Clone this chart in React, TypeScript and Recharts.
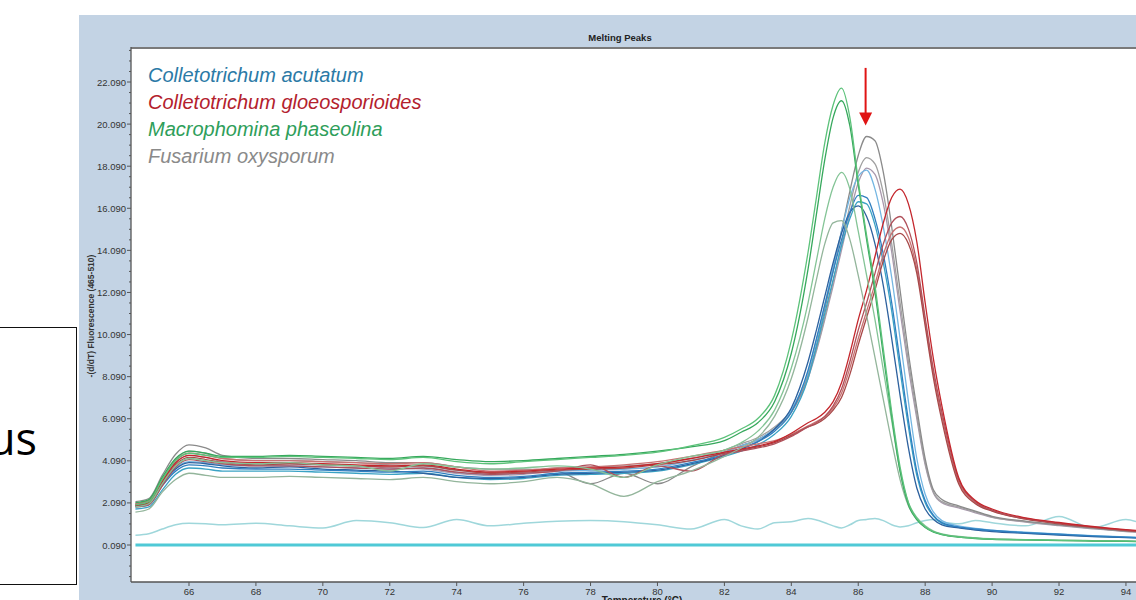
import React from 'react';
import { LineChart, Line, XAxis, YAxis, ReferenceLine, ReferenceDot } from 'recharts';

// Temperature grid (°C)
const temps = [64.4, 64.8, 65.2, 65.6, 66, 66.5, 67, 68, 69, 70, 71, 72, 73, 74, 75, 76, 77, 78, 79, 80, 81, 82, 82.5, 83, 83.5, 84, 84.5, 84.75, 85, 85.25, 85.5, 85.75, 86, 86.25, 86.5, 86.75, 87, 87.25, 87.5, 87.75, 88, 88.25, 88.5, 89, 89.5, 90, 91, 92, 93, 94, 94.4];

// Macrophomina phaseolina (green)
const macro1 = [2.0, 2.15, 3.2, 4.1, 4.45, 4.35, 4.25, 4.25, 4.3, 4.25, 4.2, 4.15, 4.25, 4.05, 3.95, 4.05, 4.15, 4.25, 4.35, 4.5, 4.8, 5.2, 5.6, 6.1, 7.2, 9.8, 14.0, 16.6, 19.2, 21.0, 21.8, 20.4, 17.4, 14.8, 12.4, 9.4, 6.4, 3.8, 2.1, 1.35, 0.95, 0.72, 0.6, 0.47, 0.41, 0.37, 0.34, 0.31, 0.29, 0.27, 0.26];
const macro2 = [2.1, 2.25, 3.3, 4.2, 4.55, 4.45, 4.3, 4.3, 4.35, 4.3, 4.25, 4.2, 4.3, 4.15, 4.05, 4.1, 4.2, 4.3, 4.4, 4.55, 4.75, 5.05, 5.45, 5.9, 6.9, 9.2, 13.2, 15.8, 18.4, 20.4, 21.2, 20.0, 17.2, 14.6, 12.1, 9.1, 6.2, 3.6, 2.0, 1.3, 0.92, 0.7, 0.58, 0.46, 0.4, 0.36, 0.33, 0.3, 0.28, 0.26, 0.25];
const macro3 = [1.9, 2.05, 3.0, 3.85, 4.2, 4.1, 4.0, 3.95, 4.0, 3.9, 3.85, 3.6, 3.95, 3.8, 3.7, 3.75, 3.85, 3.7, 3.3, 3.9, 4.3, 4.6, 4.95, 5.5, 6.5, 8.5, 11.6, 13.6, 15.6, 17.1, 17.8, 17.0, 15.0, 12.9, 10.8, 8.4, 6.0, 3.6, 2.1, 1.4, 1.0, 0.75, 0.62, 0.5, 0.43, 0.39, 0.35, 0.32, 0.3, 0.28, 0.27];
const macro4 = [1.65, 1.8, 2.6, 3.2, 3.5, 3.4, 3.3, 3.3, 3.35, 3.3, 3.25, 3.2, 3.3, 3.1, 3.0, 3.1, 3.3, 3.0, 2.4, 3.1, 3.6, 4.3, 4.7, 5.2, 6.2, 8.0, 10.9, 12.7, 14.4, 15.4, 15.5, 14.6, 12.9, 11.0, 9.0, 7.0, 5.0, 3.2, 1.95, 1.3, 0.95, 0.73, 0.6, 0.48, 0.42, 0.38, 0.34, 0.31, 0.29, 0.27, 0.26];

// Colletotrichum acutatum (blue)
const acut1 = [1.9, 2.0, 2.9, 3.6, 3.9, 3.85, 3.75, 3.7, 3.7, 3.65, 3.6, 3.55, 3.6, 3.4, 3.3, 3.35, 3.5, 3.55, 3.6, 3.7, 4.0, 4.4, 4.7, 5.0, 5.5, 6.4, 8.4, 9.9, 11.5, 13.1, 14.6, 15.9, 16.7, 16.6, 15.6, 13.9, 11.6, 8.8, 6.0, 3.6, 2.2, 1.5, 1.15, 0.95, 0.85, 0.78, 0.68, 0.6, 0.52, 0.46, 0.44];
const acut2 = [1.8, 1.9, 2.7, 3.45, 3.75, 3.7, 3.6, 3.6, 3.6, 3.55, 3.5, 3.45, 3.5, 3.3, 3.2, 3.25, 3.4, 3.45, 3.5, 3.6, 3.9, 4.3, 4.55, 4.85, 5.35, 6.2, 8.0, 9.5, 11.1, 12.7, 14.3, 15.6, 16.4, 16.3, 15.3, 13.5, 11.2, 8.4, 5.7, 3.4, 2.1, 1.45, 1.12, 0.93, 0.83, 0.76, 0.66, 0.58, 0.5, 0.45, 0.43];
const acut3 = [2.0, 2.1, 3.0, 3.75, 4.05, 4.0, 3.9, 3.85, 3.85, 3.8, 3.75, 3.7, 3.75, 3.55, 3.45, 3.5, 3.6, 3.65, 3.7, 3.8, 4.1, 4.5, 4.8, 5.1, 5.6, 6.5, 8.3, 9.8, 11.5, 13.3, 15.0, 16.6, 17.6, 17.9, 17.0, 15.2, 12.8, 9.9, 6.9, 4.2, 2.5, 1.65, 1.25, 1.0, 0.88, 0.8, 0.7, 0.62, 0.54, 0.48, 0.46];
const acut4 = [1.95, 2.05, 3.0, 3.7, 4.0, 3.95, 3.85, 3.75, 3.8, 3.7, 3.65, 3.6, 3.5, 3.3, 3.25, 3.3, 3.45, 3.5, 3.55, 3.65, 3.95, 4.35, 4.65, 5.0, 5.6, 6.6, 8.8, 10.3, 11.9, 13.5, 14.9, 15.9, 16.2, 15.7, 14.4, 12.4, 9.9, 7.2, 4.7, 2.8, 1.8, 1.3, 1.05, 0.9, 0.8, 0.73, 0.64, 0.56, 0.49, 0.44, 0.42];

// Fusarium oxysporum (gray)
const fus1 = [2.15, 2.3, 3.4, 4.4, 4.85, 4.7, 4.35, 4.2, 4.2, 4.15, 4.1, 4.0, 4.0, 3.8, 3.7, 3.7, 3.6, 3.0, 3.5, 3.0, 3.8, 4.5, 4.8, 5.1, 5.6, 6.4, 8.2, 9.6, 11.3, 13.1, 15.0, 16.9, 18.6, 19.5, 19.3, 17.8, 15.2, 12.2, 9.2, 6.6, 4.2, 2.7, 2.25, 1.95, 1.7, 1.45, 1.22, 1.05, 0.9, 0.76, 0.72];
const fus2 = [2.05, 2.2, 3.2, 4.15, 4.55, 4.45, 4.2, 4.1, 4.1, 4.05, 4.0, 3.9, 3.85, 3.65, 3.55, 3.6, 3.75, 3.8, 3.85, 3.95, 4.2, 4.6, 4.9, 5.2, 5.7, 6.5, 8.1, 9.4, 10.9, 12.6, 14.4, 16.2, 17.8, 18.5, 18.2, 16.8, 14.4, 11.6, 8.8, 6.3, 4.0, 2.6, 2.15, 1.9, 1.66, 1.42, 1.2, 1.03, 0.88, 0.74, 0.7];
const fus3 = [1.95, 2.1, 3.1, 4.0, 4.35, 4.25, 4.05, 3.95, 3.95, 3.9, 3.85, 3.75, 3.7, 3.5, 3.4, 3.45, 3.6, 3.65, 3.7, 3.8, 4.1, 4.5, 4.8, 5.1, 5.6, 6.4, 8.0, 9.3, 10.8, 12.4, 14.1, 15.8, 17.3, 18.0, 17.7, 16.3, 14.0, 11.2, 8.5, 6.1, 3.9, 2.55, 2.1, 1.85, 1.62, 1.4, 1.18, 1.01, 0.86, 0.73, 0.69];

// Colletotrichum gloeosporioides (red)
const gloeo1 = [2.0, 2.1, 3.1, 4.0, 4.35, 4.25, 4.1, 4.0, 4.0, 3.95, 3.9, 3.85, 3.9, 3.7, 3.55, 3.6, 3.7, 3.75, 3.8, 3.95, 4.2, 4.5, 4.65, 4.8, 5.0, 5.4, 5.9, 6.1, 6.4, 6.9, 7.8, 9.2, 10.8, 12.2, 13.8, 15.4, 16.6, 17.0, 16.3, 14.5, 11.6, 8.9, 6.7, 3.3, 2.2, 1.8, 1.38, 1.16, 0.97, 0.82, 0.77];
const gloeo2 = [1.9, 2.0, 2.9, 3.8, 4.15, 4.05, 3.95, 3.85, 3.85, 3.8, 3.75, 3.7, 3.75, 3.55, 3.45, 3.5, 3.6, 3.9, 3.3, 3.85, 3.6, 4.4, 4.55, 4.7, 4.9, 5.25, 5.7, 5.9, 6.2, 6.7, 7.5, 8.8, 10.3, 11.6, 13.0, 14.4, 15.4, 15.7, 15.1, 13.5, 10.9, 8.4, 6.4, 3.2, 2.15, 1.75, 1.35, 1.13, 0.95, 0.8, 0.75];
const gloeo3 = [2.05, 2.2, 3.2, 4.1, 4.45, 4.35, 4.2, 4.1, 4.1, 4.05, 4.0, 3.95, 4.0, 3.8, 3.6, 3.65, 3.75, 3.8, 3.9, 4.05, 4.3, 4.6, 4.75, 4.9, 5.05, 5.35, 5.75, 5.95, 6.2, 6.6, 7.3, 8.5, 9.9, 11.2, 12.5, 13.9, 14.9, 15.2, 14.7, 13.2, 10.7, 8.2, 6.2, 3.1, 2.1, 1.72, 1.33, 1.12, 0.94, 0.79, 0.74];
const gloeo4 = [1.95, 2.1, 3.0, 3.9, 4.25, 4.15, 4.0, 3.9, 3.95, 3.9, 3.85, 3.8, 3.85, 3.65, 3.5, 3.55, 3.65, 3.7, 3.75, 3.9, 4.1, 4.45, 4.6, 4.75, 4.95, 5.3, 5.7, 5.85, 6.1, 6.5, 7.1, 8.2, 9.6, 10.9, 12.2, 13.6, 14.6, 14.9, 14.4, 13.0, 10.5, 8.0, 6.0, 3.0, 2.05, 1.7, 1.32, 1.1, 0.93, 0.78, 0.73];

// Controls (cyan)
const ctrlNoise = [0.55, 0.62, 0.85, 1.05, 1.12, 1.1, 1.05, 1.12, 1.0, 0.9, 1.25, 1.15, 0.92, 1.3, 1.0, 1.12, 1.22, 1.25, 1.2, 1.05, 0.85, 1.3, 1.0, 0.85, 1.15, 1.2, 1.35, 1.28, 1.15, 1.0, 0.9, 1.05, 1.25, 1.3, 1.35, 1.25, 1.05, 0.95, 1.0, 1.15, 1.25, 1.3, 1.2, 1.1, 1.25, 1.15, 1.0, 1.45, 0.9, 1.3, 1.15];
const ctrlFlat = [0.09, 0.09, 0.09, 0.09, 0.09, 0.09, 0.09, 0.09, 0.09, 0.09, 0.09, 0.09, 0.09, 0.09, 0.09, 0.09, 0.09, 0.09, 0.09, 0.09, 0.09, 0.09, 0.09, 0.09, 0.09, 0.09, 0.09, 0.09, 0.09, 0.09, 0.09, 0.09, 0.09, 0.09, 0.09, 0.09, 0.09, 0.09, 0.09, 0.09, 0.09, 0.09, 0.09, 0.09, 0.09, 0.09, 0.09, 0.09, 0.09, 0.09, 0.09];

const xTickLabels = [66, 68, 70, 72, 74, 76, 78, 80, 82, 84, 86, 88, 90, 92, 94];
const yTickLabels = [0.09, 2.09, 4.09, 6.09, 8.09, 10.09, 12.09, 14.09, 16.09, 18.09, 20.09, 22.09];

const legendItems = [
  { name: 'Colletotrichum acutatum', color: '#2b7aa6' },
  { name: 'Colletotrichum gloeosporioides', color: '#b3212d' },
  { name: 'Macrophomina phaseolina', color: '#2e9e5a' },
  { name: 'Fusarium oxysporum', color: '#8a8a8a' },
];

const series = [
  { key: 'ctrlFlat', data: ctrlFlat, color: '#4fc9d6', w: 3 },
  { key: 'ctrlNoise', data: ctrlNoise, color: '#9fd7db', w: 1.5 },
  { key: 'fus3', data: fus3, color: '#a898ac', w: 1.3 },
  { key: 'fus2', data: fus2, color: '#a0a0a0', w: 1.3 },
  { key: 'fus1', data: fus1, color: '#8a8a8a', w: 1.3 },
  { key: 'acut2', data: acut2, color: '#3aa2c4', w: 1.3 },
  { key: 'acut3', data: acut3, color: '#74b6e2', w: 1.3 },
  { key: 'acut4', data: acut4, color: '#2d619e', w: 1.3 },
  { key: 'acut1', data: acut1, color: '#2f7fc0', w: 1.3 },
  { key: 'gloeo3', data: gloeo3, color: '#c87272', w: 1.3 },
  { key: 'gloeo4', data: gloeo4, color: '#a84848', w: 1.3 },
  { key: 'gloeo2', data: gloeo2, color: '#b0505a', w: 1.3 },
  { key: 'gloeo1', data: gloeo1, color: '#c4262c', w: 1.3 },
  { key: 'macro4', data: macro4, color: '#93b59b', w: 1.3 },
  { key: 'macro3', data: macro3, color: '#84c496', w: 1.3 },
  { key: 'macro2', data: macro2, color: '#36a85c', w: 1.3 },
  { key: 'macro1', data: macro1, color: '#5cc27a', w: 1.3 },
];

const rows = temps.map((t, i) => {
  const r: Record<string, number> = { t };
  series.forEach((s) => { r[s.key] = s.data[i]; });
  return r;
});

// y ticks: labelled majors plus three minor marks between them
const yTicksAll: number[] = [];
for (let k = -3; k <= 47; k++) yTicksAll.push(Math.round((0.09 + k * 0.5) * 1000) / 1000);
const isMajor = (v: number) => yTickLabels.some((m) => Math.abs(m - v) < 1e-6);

const FONT = '"Liberation Sans", Arial, sans-serif';

const YTick = (props: any) => {
  const { x, y, payload } = props;
  const v = Number(payload.value);
  const major = isMajor(v);
  return (
    <g>
      <line x1={x - (major ? 4 : 2)} x2={x} y1={y} y2={y} stroke="#555" strokeWidth={1} />
      {major && (
        <text x={x - 5} y={y + 3.5} textAnchor="end" fontSize={9.5} fontFamily={FONT} fill="#333">
          {v.toFixed(3)}
        </text>
      )}
    </g>
  );
};

const XTick = (props: any) => {
  const { x, y, payload } = props;
  return (
    <g>
      <line x1={x} x2={x} y1={y} y2={y + 4} stroke="#555" strokeWidth={1} />
      <text x={x} y={y + 12.5} textAnchor="middle" fontSize={9.5} fontFamily={FONT} fill="#333">
        {payload.value}
      </text>
    </g>
  );
};

const ArrowHead = (props: any) => {
  const { cx, cy } = props;
  if (cx == null || cy == null) return null;
  return <polygon points={`${cx - 6.5},${cy - 13} ${cx + 6.5},${cy - 13} ${cx},${cy}`} fill="#e01414" />;
};

export default function App() {
  return (
    <div style={{ position: 'absolute', left: 0, top: 0, width: 1136, height: 600, overflow: 'hidden', background: '#fff' }}>
      {/* slide box on the left */}
      <div style={{ position: 'absolute', left: -4, top: 327, width: 81, height: 258, border: '1.5px solid #111', boxSizing: 'border-box', background: '#fff' }} />
      {/* software panel */}
      <div style={{ position: 'absolute', left: 79, top: 15, width: 1060, height: 590, background: '#c3d3e4' }} />
      <div style={{ position: 'absolute', left: 131, top: 48, width: 1010, height: 534, background: '#fff' }} />
      <div style={{ position: 'absolute', left: 0, top: 0 }}>
        <LineChart width={1150} height={600} data={rows} margin={{ top: 48, right: 10, bottom: 0, left: 81 }}>
          <XAxis
            type="number"
            dataKey="t"
            domain={[64.267, 94.42]}
            ticks={xTickLabels}
            tick={<XTick />}
            interval={0}
            height={18}
            tickSize={0}
            tickMargin={0}
            axisLine={false}
            tickLine={false}
            allowDataOverflow
          />
          <YAxis
            type="number"
            domain={[-1.668, 23.706]}
            ticks={yTicksAll}
            tick={<YTick />}
            interval={0}
            width={50}
            tickSize={0}
            tickMargin={0}
            axisLine={false}
            tickLine={false}
            allowDataOverflow
          />
          {series.map((s) => (
            <Line
              key={s.key}
              dataKey={s.key}
              type="monotone"
              stroke={s.color}
              strokeWidth={s.w}
              dot={false}
              activeDot={false}
              isAnimationActive={false}
            />
          ))}
          <ReferenceLine
            segment={[{ x: 86.22, y: 22.76 }, { x: 86.22, y: 20.6 }]}
            stroke="#e01414"
            strokeWidth={2}
          />
          <ReferenceDot x={86.22} y={20.02} r={6} shape={<ArrowHead />} />
        </LineChart>
      </div>
      <svg width={1136} height={600} style={{ position: 'absolute', left: 0, top: 0, pointerEvents: 'none' }}>
        <line x1={131} x2={1136} y1={48} y2={48} stroke="#7a7a7a" strokeWidth={2} />
        <line x1={131} x2={131} y1={47} y2={582} stroke="#555" strokeWidth={1.3} />
        <line x1={131} x2={1136} y1={582} y2={582} stroke="#555" strokeWidth={1.5} />
        <text x={620} y={41} textAnchor="middle" fontSize={9.5} fontWeight="bold" fontFamily={FONT} fill="#222">
          Melting Peaks
        </text>
        <text
          x={0}
          y={0}
          transform="translate(94,316) rotate(-90)"
          textAnchor="middle"
          fontSize={8.5}
          fontWeight="bold"
          fontFamily={FONT}
          fill="#333"
        >
          -(d/dT) Fluorescence (465-510)
        </text>
        <text x={642} y={604} textAnchor="middle" fontSize={10} fontWeight="bold" fontFamily={FONT} fill="#222">
          Temperature (°C)
        </text>
        {legendItems.map((l, i) => (
          <text key={l.name} x={148} y={82 + i * 27} fontSize={20} fontStyle="italic" fontFamily={FONT} fill={l.color}>
            {l.name}
          </text>
        ))}
        <text x={37} y={455} textAnchor="end" fontSize={45} fontFamily='"Open Sans", sans-serif' fill="#000">
          us
        </text>
      </svg>
    </div>
  );
}
